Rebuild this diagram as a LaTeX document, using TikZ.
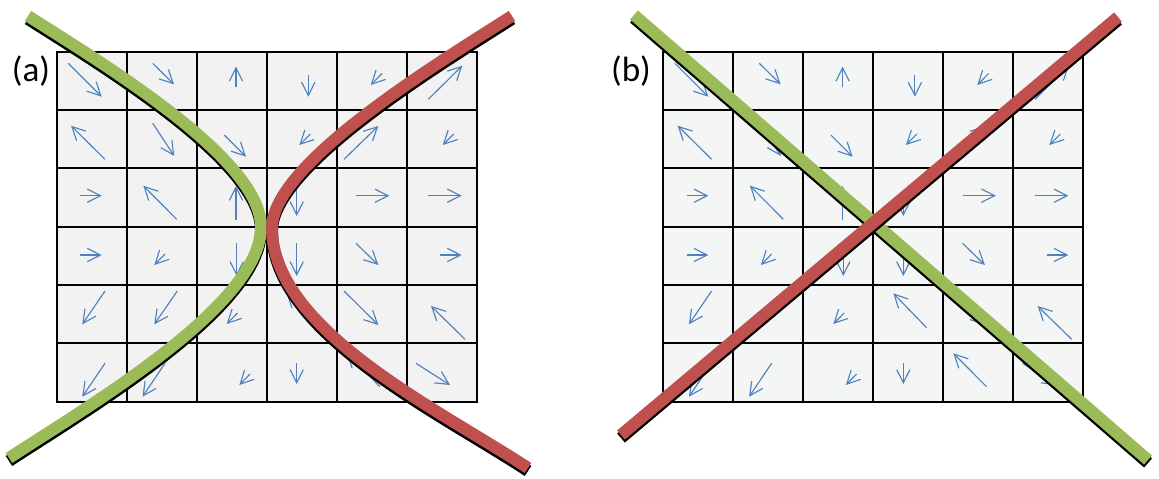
\documentclass[tikz,border=0pt]{standalone}
\usepackage{fontspec}
\setmainfont{Carlito}
\usepackage{tikz}
\usetikzlibrary{arrows.meta}
\definecolor{vecblue}{HTML}{4F81BD}
\definecolor{lgreen}{HTML}{9BBB59}
\definecolor{lred}{HTML}{C0504D}
\definecolor{cellA}{HTML}{F2F2F2}
\definecolor{cellB}{HTML}{F4F6F5}
\tikzset{
  cellgrid/.style={draw=black,line width=1.15pt},   % cell borders
  fvec/.style={-{Straight Barb[length=7.5pt,width=7.6pt]},vecblue,line width=0.65pt}, % field vector
  band/.style={line width=6.8pt,preaction={draw=black,line width=6.8pt,transform canvas={yshift=-1.7pt}}},
  gband/.style={band,draw=lgreen},
  rband/.style={band,draw=lred},
  lbl/.style={font=\fontsize{20}{24}\selectfont,inner sep=0pt,anchor=base},
}
\newcommand{\vecfield}[2]{% x offset, cell fill
  \begin{scope}[shift={(#1,0)}]
    \fill[#2] (56.7,51.7) rectangle (476.7,401.7);
    \foreach \i in {1,...,5} {
      \draw[cellgrid] (56.7+70*\i,51.7) -- (56.7+70*\i,401.7);
      \draw[cellgrid] (56.7,51.7+58.33*\i) -- (476.7,51.7+58.33*\i);
    }
    \draw[cellgrid] (56.7,51.7) rectangle (476.7,401.7);
    \foreach \a/\b/\c/\d in {68.3/63.3/101.7/96.7, 152.7/63.3/174/84.3, 236/87.3/236/66.7,
        308.3/75/308.3/96.7, 382/73.5/370.7/85, 428.3/99.3/462.3/65.7,
        105/159.3/71/125.7, 152.7/123.3/174.3/156, 224.3/135/246/156.7,
        310.3/134/299.3/145, 344/159.3/378.3/126, 453.7/134/442.7/145,
        80/195.7/101.7/195.7, 176.7/219.3/143.3/185.7, 236/220/236/186,
        296.7/190/296.7/216, 356/195.7/389.3/195.7, 428/195.7/461.7/195.7,
        80/255/101.7/255, 165/254/154.3/265, 236.7/243.3/236.7/276,
        296.7/243.3/296.7/276, 356/243.3/378.3/265, 440/255/461.7/255,
        105/291/82.3/324.3, 177.3/291/154.3/324.3, 237.5/313/226.7/324,
        320/327.7/286.7/293.3, 344/291/378.3/325, 465/339.3/431/306,
        105/363.3/82.3/396.7, 165/363.3/142.5/396.7, 250/374/239.3/385,
        296.7/363.3/296.7/384, 380/386.7/346.7/353.3, 416/363.3/450/385}
      \draw[fvec] (\a,\b) -- (\c,\d);
  \end{scope}
}

\begin{document}
\begin{tikzpicture}[x=0.02cm,y=-0.02cm]
  \useasboundingbox (0,0) rectangle (1159,478);
  \vecfield{0}{cellA}
  \vecfield{606.6}{cellB}
  % (a) curved branches
  \draw[gband] (28,16) .. controls (110,68) and (261,160) .. (261,227)
               .. controls (261,305) and (90,405) .. (9,458);
  \draw[rband] (512,16) .. controls (430,68) and (272,165) .. (272,228)
               .. controls (272,330) and (440,410) .. (528,468);
  % (b) straight crossing lines
  \draw[gband] (634,15) -- (1148,460);
  \draw[rband] (1118,17) -- (621,435);
  \node[lbl] (lbla) at (31,81.7) {(a)};
  \node[lbl] (lblb) at (631,81.7) {(b)};
\end{tikzpicture}
\end{document}
